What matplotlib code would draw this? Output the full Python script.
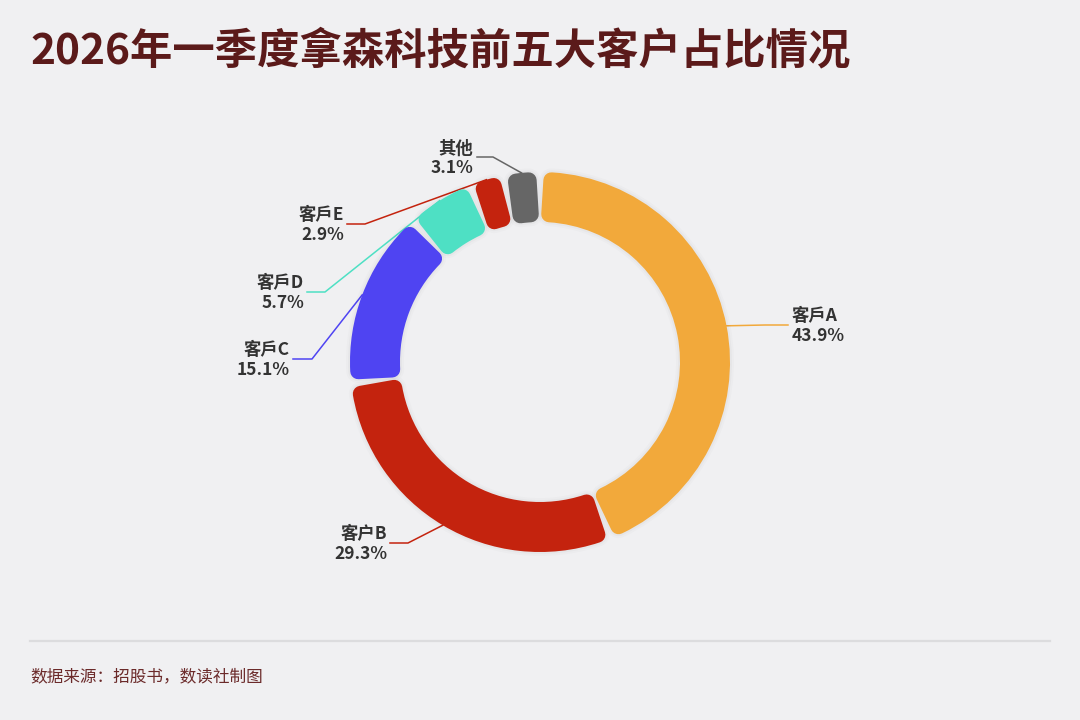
import numpy as np
import matplotlib
matplotlib.use("Agg")
import matplotlib.pyplot as plt
from matplotlib.patches import Wedge

plt.rcParams['font.family'] = ['Noto Sans CJK SC', 'DejaVu Sans']

# data
names = ['客戶A', '客户B', '客戶C', '客戶D', '客戶E', '其他']
shares = [43.9, 29.3, 15.1, 5.7, 2.9, 3.1]
colors = ['#F2A93B', '#C4230E', '#4F44F2', '#4EE0C4', '#C4230E', '#666666']

title = '2026年一季度拿森科技前五大客户占比情况'
source = '数据来源：招股书，数读社制图'

# label layout in pixels from top-left: (elbow, end of line, text x, alignment)
label_pos = [
    ((765, 325), (788, 325), 792, 'left'),
    ((408, 543), (390, 543), 387, 'right'),
    ((312, 359), (293, 359), 290, 'right'),
    ((325, 292), (307, 292), 304, 'right'),
    ((365, 224), (347, 224), 344, 'right'),
    ((493, 157), (477, 157), 473, 'right'),
]

W, H = 1080, 720
fig = plt.figure(figsize=(10.8, 7.2), dpi=100)
fig.patch.set_facecolor('#F0F0F2')
ax = fig.add_axes([0, 0, 1, 1])
ax.set_xlim(0, W)
ax.set_ylim(0, H)
ax.set_aspect('equal')
ax.axis('off')

def py(y):
    return H - y

cx, cy = 540, py(362)
r_out, r_in = 190, 140
corner = 8          # corner radius in px
gap = 1.6           # degrees between slices
px2pt = 72 / fig.dpi

total = sum(shares)
start = 90.0
r_mid = (r_out + r_in) / 2
trim = gap / 2 + np.degrees(corner / r_mid)

for i, (v, c) in enumerate(zip(shares, colors)):
    span = v / total * 360
    t2 = start - trim
    t1 = start - span + trim
    # soft shadow
    for extra, a in [(8, 0.015), (4, 0.025)]:
        ax.add_patch(Wedge((cx, cy), r_out - corner, t1, t2, width=r_out - r_in - 2 * corner,
                           facecolor='none', edgecolor='#000000', alpha=a,
                           linewidth=(2 * corner + extra) * px2pt, joinstyle='round', zorder=2))
    ax.add_patch(Wedge((cx, cy), r_out - corner, t1, t2, width=r_out - r_in - 2 * corner,
                       facecolor=c, edgecolor=c, linewidth=2 * corner * px2pt,
                       joinstyle='round', zorder=3))

    # leader line from the slice's middle
    mid = np.radians(start - span / 2)
    sx, sy = cx + r_out * np.cos(mid), cy + r_out * np.sin(mid)
    (ex, ey), (fx, fy), tx, ha = label_pos[i]
    ax.plot([sx, ex, fx], [sy, py(ey), py(fy)], color=c, lw=1.1, zorder=1,
            solid_joinstyle='round')
    ax.text(tx, py(fy) - 1, f'{names[i]}\n{v:.1f}%', ha=ha, va='center',
            multialignment=ha, fontsize=12.5, fontweight='bold', color='#333333',
            linespacing=1.1, zorder=4)
    start -= span

fig.text(30 / W, 1 - 51 / H, title, ha='left', va='center', fontsize=30.5,
         fontweight='bold', color='#5B1A1A')
ax.plot([30, 1050], [py(641), py(641)], color='#DCDCDE', lw=1.6, zorder=1)
fig.text(30 / W, 1 - 677 / H, source, ha='left', va='center', fontsize=12,
         color='#6B2A2A')

fig.savefig('out.png', dpi=100, facecolor=fig.get_facecolor())
